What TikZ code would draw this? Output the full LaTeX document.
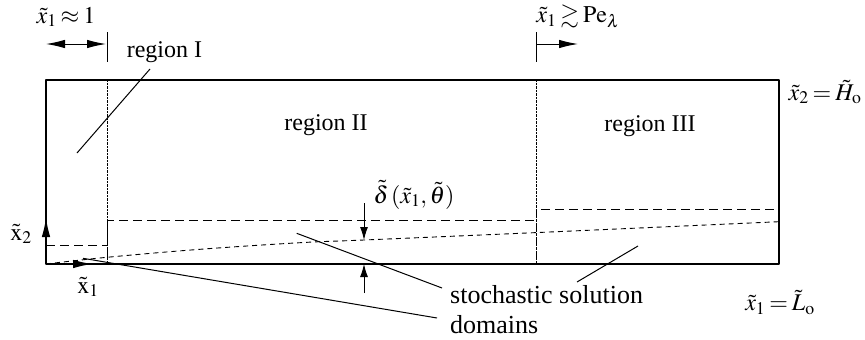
\documentclass[tikz,border=0pt]{standalone}
\usepackage{amsmath,amssymb}
\usepackage{mathptmx}
\usepackage[no-math]{fontspec}
\setmainfont{Liberation Serif}
\usetikzlibrary{arrows.meta}

\tikzset{
  lbl/.style={inner sep=0pt,font=\fontsize{24}{28}\selectfont},
  biglbl/.style={inner sep=0pt,font=\fontsize{26}{30}\selectfont},
  longdash/.style={line width=1pt,dash pattern=on 9pt off 5pt},
  shortdash/.style={line width=0.9pt,dash pattern=on 5pt off 4pt},
  leader/.style={line width=1pt},
}
\thickmuskip=3mu plus 2mu

\begin{document}
\begin{tikzpicture}[x=1pt,y=-1pt,>={Latex[length=19pt,width=8.5pt]},line join=round]
  \useasboundingbox (0,0) rectangle (865,340);
  \coordinate (O) at (46,264);
  \coordinate (LT) at (46,80);
  \coordinate (RB) at (779,264);
  \coordinate (A0) at (107,80);
  \coordinate (A1) at (107,264);
  \coordinate (B0) at (536,80);
  \coordinate (B1) at (536,264);
  \coordinate (TA0) at (107,32);
  \coordinate (TA1) at (107,62);
  \coordinate (TB0) at (536,32);
  \coordinate (TB1) at (536,62);
  \coordinate (WL) at (46,44);
  \coordinate (WA) at (106,44);
  \coordinate (WB) at (536,44);
  \coordinate (WR) at (578,44);
  \coordinate (X2) at (46,218);
  \coordinate (X1) at (92,264);
  \coordinate (D0) at (364,203);
  \coordinate (D1) at (364,240);
  \coordinate (D2) at (364,293);
  \coordinate (D3) at (364,264);
  % box and region borders
  \draw[line width=1.3pt] (LT) rectangle (RB);
  \draw[densely dotted] (A0) -- (A1);
  \draw[densely dotted] (B0) -- (B1);
  \draw[line width=1pt] (TA0) -- (TA1);
  \draw[line width=1pt] (TB0) -- (TB1);
  \draw[line width=1pt,<->] (WL) -- (WA);
  \draw[line width=1pt,->] (WB) -- (WR);
  % stochastic solution domains
  \draw[longdash] (46,245.7) -- (107,245.7) -- (107,220.7) -- (536,220.7)
    -- (536,209) -- (779,209);
  \draw[longdash] (107,220.7) -- (A1);
  \draw[longdash] (536,209) -- (B1);
  % delta
  \draw[shortdash] plot[smooth,tension=0.6] coordinates
    {(46,264) (107,257.3) (200,249.3) (300,242.7) (364,240) (536,232.6) (779,221.7)};
  \draw[line width=1pt,-{Latex[length=13pt,width=8pt]}] (D0) -- (D1);
  \draw[line width=1pt,-{Latex[length=13pt,width=8pt]}] (D2) -- (D3);
  % axes
  \draw[line width=1.1pt,->] (O) -- (X2);
  \draw[line width=1.1pt,->] (O) -- (X1);
  % labels
  \node[lbl] (wI) at (66,17) {$\tilde{x}_1\approx 1$};
  \node[lbl] (wIII) at (578,17) {$\tilde{x}_1\gtrsim \mathrm{Pe}_\lambda$};
  \node[lbl,anchor=base] (rI) at (164.5,57) {region I};
  \node[lbl,anchor=base] (rII) at (326,130) {region II};
  \node[lbl,anchor=base] (rIII) at (650,131) {region III};
  \node[lbl,anchor=base] (hgt) at (825,100) {$\tilde{x}_2=\tilde{H}_\mathrm{o}$};
  \node[lbl,anchor=base] (len) at (780,310.7) {$\tilde{x}_1=\tilde{L}_\mathrm{o}$};
  \node[lbl,anchor=base] (del) at (414,203) {$\tilde{\delta}\,(\tilde{x}_1,\tilde{\theta})$};
  \node[lbl,anchor=base] (ax2) at (21,240) {$\tilde{\mathrm{x}}_2$};
  \node[lbl,anchor=base] (ax1) at (88,293) {$\tilde{\mathrm{x}}_1$};
  \node[biglbl,anchor=base west] (stoch) at (450,303.3) {stochastic solution};
  \node[biglbl,anchor=base west] (dom) at (450,333) {domains};
  % leaders
  \coordinate (LI0) at (150,69);
  \coordinate (LI) at (77,153);
  \coordinate (LS) at (442,288);
  \coordinate (LII) at (296.7,233.3);
  \coordinate (LM) at (437,318);
  \coordinate (LD) at (83,258.3);
  \coordinate (LT3) at (577,282);
  \coordinate (LIII) at (638,246);
  \draw[leader] (LI0) -- (LI);
  \draw[leader] (LS) -- (LII);
  \draw[leader] (LM) -- (LD);
  \draw[leader] (LT3) -- (LIII);
\end{tikzpicture}
\end{document}
